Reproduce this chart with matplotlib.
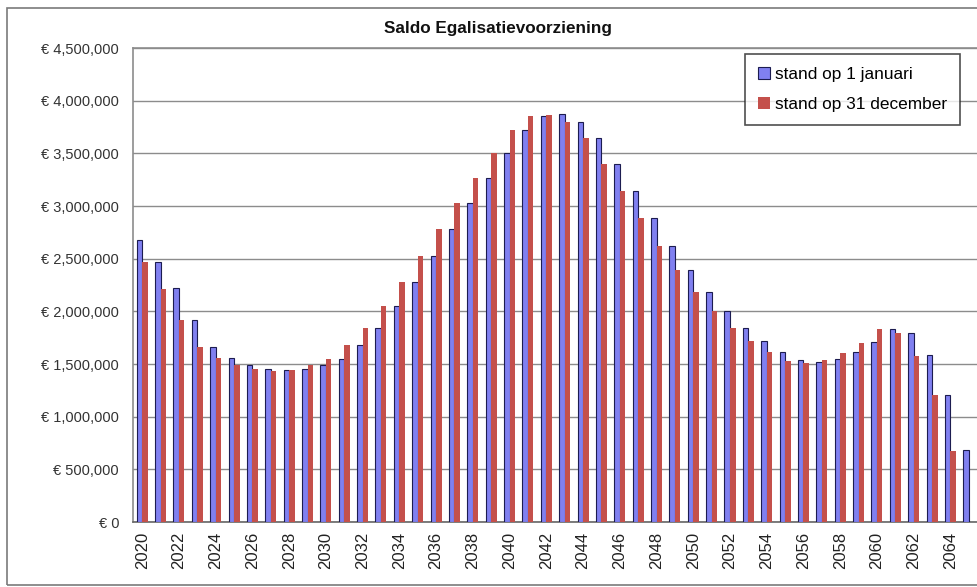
import numpy as np
import matplotlib.pyplot as plt
from matplotlib.patches import Rectangle
from matplotlib.ticker import FuncFormatter

plt.rcParams['font.family'] = ['Liberation Sans', 'DejaVu Sans']

jaren = list(range(2020, 2066))

# stand op 1 januari (euro)
stand_jan = [2680000, 2470000, 2220000, 1920000, 1665000, 1560000, 1495000, 1455000,
             1440000, 1450000, 1495000, 1550000, 1680000, 1845000, 2050000, 2280000,
             2525000, 2780000, 3030000, 3270000, 3500000, 3720000, 3850000, 3870000,
             3800000, 3645000, 3400000, 3145000, 2890000, 2625000, 2390000, 2180000,
             2000000, 1845000, 1720000, 1610000, 1535000, 1520000, 1548000, 1612000,
             1705000, 1830000, 1792000, 1583000, 1205000, 683000]

# stand op 31 december (euro), geen waarde voor 2065
stand_dec = [2470000, 2215000, 1915000, 1660000, 1555000, 1495000, 1450000, 1430000,
             1440000, 1490000, 1545000, 1680000, 1845000, 2050000, 2280000, 2525000,
             2780000, 3030000, 3270000, 3500000, 3720000, 3850000, 3865000, 3800000,
             3645000, 3400000, 3145000, 2890000, 2625000, 2390000, 2180000, 2000000,
             1840000, 1720000, 1610000, 1528000, 1512000, 1540000, 1600000, 1700000,
             1832000, 1790000, 1576000, 1206000, 676000]

W, H = 978, 587
fig = plt.figure(figsize=(W / 100, H / 100), dpi=100)

# rand om de hele grafiek
fig.patches.append(Rectangle((7 / W, 2 / H), 1.2, (H - 10) / H, transform=fig.transFigure,
                             fill=False, edgecolor='#7a7a7a', linewidth=1.2))

ax = fig.add_axes([133 / W, (H - 522) / H, 845 / W, 474 / H])

x = np.arange(len(jaren))
bw = 0.3
ax.bar(x - bw / 2, stand_jan, width=bw, color='#8080f0', edgecolor='#1c1c50',
       linewidth=0.8, label='stand op 1 januari', zorder=3)
ax.bar(x[:len(stand_dec)] + bw / 2, stand_dec, width=bw, color='#c4504b',
       linewidth=0, label='stand op 31 december', zorder=3)

ax.set_xlim(-0.5, len(jaren) - 0.5)
ax.set_ylim(0, 4500000)
ax.set_yticks(np.arange(0, 4500001, 500000))
ax.yaxis.set_major_formatter(FuncFormatter(lambda v, p: '€ ' + format(int(v), ',')))
ax.set_xticks(x[::2])
ax.set_xticklabels([str(j) for j in jaren[::2]], rotation=90)
ax.tick_params(axis='y', length=0, pad=10, labelsize=10.5, labelcolor='#333333')
ax.tick_params(axis='x', length=0, pad=7, labelsize=12, labelcolor='#222222')

ax.grid(axis='y', color='#8c8c8c', linewidth=1.0, zorder=0)
for s in ['top', 'left', 'bottom', 'right']:
    ax.spines[s].set_color('#8c8c8c')
    ax.spines[s].set_linewidth(1.2)
ax.spines['bottom'].set_color('#666666')

fig.text(498 / W, 1 - 29 / H, 'Saldo Egalisatievoorziening', ha='center', va='center',
         fontsize=12.3, fontweight='bold', color='#111111')

leg = ax.legend(loc='upper right', fontsize=12.4, frameon=True, fancybox=False,
                edgecolor='#222222', handlelength=0.7, handleheight=0.7, handletextpad=0.3,
                labelspacing=0.85, borderpad=0.75, borderaxespad=0)
leg.get_frame().set_linewidth(1.2)
leg.set_bbox_to_anchor((1 - 18 / 845, 1 - 6 / 474), transform=ax.transAxes)

fig.savefig('out.png', dpi=100)
